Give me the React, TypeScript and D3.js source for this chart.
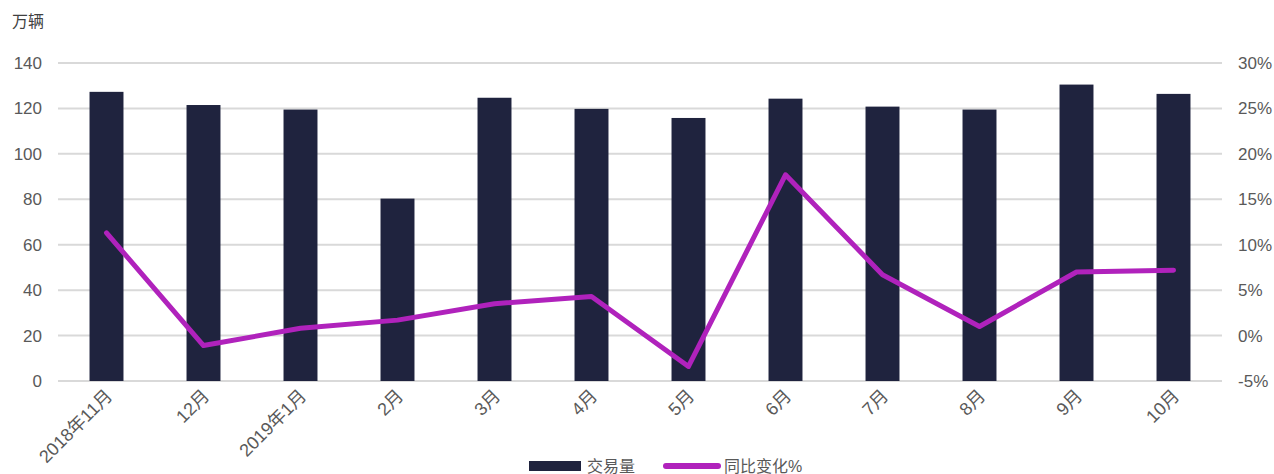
import React from "react";
import * as d3 from "d3";

const categories = ["2018年11月", "12月", "2019年1月", "2月", "3月", "4月", "5月", "6月", "7月", "8月", "9月", "10月"];
const volume = [127.3, 121.5, 119.5, 80.3, 124.7, 119.8, 115.8, 124.3, 120.8, 119.5, 130.5, 126.4];
const yoy = [11.3, -1.1, 0.8, 1.7, 3.5, 4.3, -3.4, 17.7, 6.7, 1.0, 7.0, 7.2];
const leftTicks = [0, 20, 40, 60, 80, 100, 120, 140];
const rightTicks = [-5, 0, 5, 10, 15, 20, 25, 30];

const W = 1274, H = 474;
const X0 = 58, X1 = 1222, YT = 63, YB = 381;
const font = "'Liberation Sans', Arial, 'Noto Sans CJK SC', sans-serif";
const BAR = "#1f233e";
const LINE = "#b022bc";

export default function App() {
  const x = d3.scaleBand<string>().domain(categories).range([X0, X1]).paddingInner(0.65).paddingOuter(0.325);
  const yL = d3.scaleLinear().domain([0, 140]).range([YB, YT]);
  const yR = d3.scaleLinear().domain([-5, 30]).range([YB, YT]);
  const cx = (c: string) => (x(c) as number) + x.bandwidth() / 2;
  const line = d3.line<number>().x((_, i) => cx(categories[i])).y((v) => yR(v));

  return (
    <svg width={W} height={H} style={{ position: "absolute", left: 0, top: 0, fontFamily: font }}>
      <rect width={W} height={H} fill="#fff" />
      <text x={12} y={27} fontSize={16} fill="#404040">万辆</text>
      {leftTicks.map((t) => (
        <g key={"l" + t}>
          <line x1={X0} x2={X1} y1={yL(t)} y2={yL(t)} stroke="#d9d9d9" strokeWidth={2} />
          <text x={42} y={yL(t) + 6} fontSize={17} fill="#595959" textAnchor="end">{t}</text>
        </g>
      ))}
      {rightTicks.map((t) => (
        <text key={"r" + t} x={1238} y={yR(t) + 6} fontSize={17} fill="#595959">{t}%</text>
      ))}
      {categories.map((c, i) => (
        <rect key={c} x={x(c)} y={yL(volume[i])} width={x.bandwidth()} height={YB - yL(volume[i])} fill={BAR} />
      ))}
      <path d={line(yoy) || ""} fill="none" stroke={LINE} strokeWidth={5} strokeLinejoin="round" strokeLinecap="round" />
      {categories.map((c) => (
        <text key={"x" + c} transform={`translate(${cx(c) + 7},${397}) rotate(-45)`} fontSize={18} fill="#595959" textAnchor="end">{c}</text>
      ))}
      <rect x={529} y={461} width={52} height={10} fill={BAR} />
      <text x={587} y={472} fontSize={16} fill="#595959">交易量</text>
      <line x1={666} x2={718} y1={466} y2={466} stroke={LINE} strokeWidth={6} strokeLinecap="round" />
      <text x={724} y={472} fontSize={16} fill="#595959">同比变化%</text>
    </svg>
  );
}
